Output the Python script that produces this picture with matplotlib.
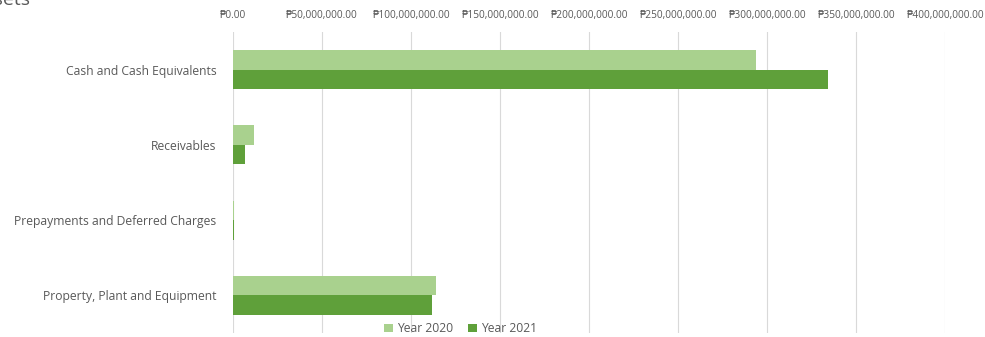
import matplotlib.pyplot as plt
import numpy as np
from matplotlib.ticker import FuncFormatter

categories = ["Cash and Cash Equivalents", "Receivables",
              "Prepayments and Deferred Charges", "Property, Plant and Equipment"]
year_2020 = [293800000, 11800000, 700000, 114000000]
year_2021 = [334300000, 6600000, 500000, 111800000]
series_labels = ["Year 2020", "Year 2021"]

plt.rcParams['font.family'] = ['Open Sans', 'DejaVu Sans']
txt = '#595959'

fig = plt.figure(figsize=(9.85, 3.37), dpi=100)
ax = fig.add_axes([233/985, 1-333/337, (945-233)/985, (333-32)/337])

y = np.arange(len(categories))
h = 0.26
ax.barh(y - h/2, year_2020, height=h, color='#a9d18e', label=series_labels[0], zorder=3)
ax.barh(y + h/2, year_2021, height=h, color='#5fa03a', label=series_labels[1], zorder=3)

ax.set_ylim(len(categories) - 0.5, -0.5)
ax.set_yticks(y)
ax.set_yticklabels(categories, fontsize=8.7, color=txt)
ax.set_xlim(0, 400000000)
ax.set_xticks(np.arange(0, 400000001, 50000000))
ax.xaxis.set_major_formatter(FuncFormatter(lambda v, p: "\u20b1{:,.2f}".format(v)))
ax.xaxis.tick_top()
ax.tick_params(axis='x', labelsize=7.3, colors=txt, length=0, pad=8)
ax.tick_params(axis='y', length=0, pad=12)
ax.grid(axis='x', color='#d9d9d9', linewidth=0.8, zorder=0)
for s in ax.spines.values():
    s.set_visible(False)

ax.legend(loc='center', bbox_to_anchor=(0.32, 0.015), ncol=2, frameon=False,
          fontsize=8.7, labelcolor=txt, handlelength=0.7, handleheight=0.7,
          handletextpad=0.4, columnspacing=1.2, borderaxespad=0)

# title is partly off the canvas in the reference too
fig.text(-0.028, 1.0, "Assets", fontsize=14, color=txt, va='center', ha='left')

fig.savefig('out.png', dpi=100)
